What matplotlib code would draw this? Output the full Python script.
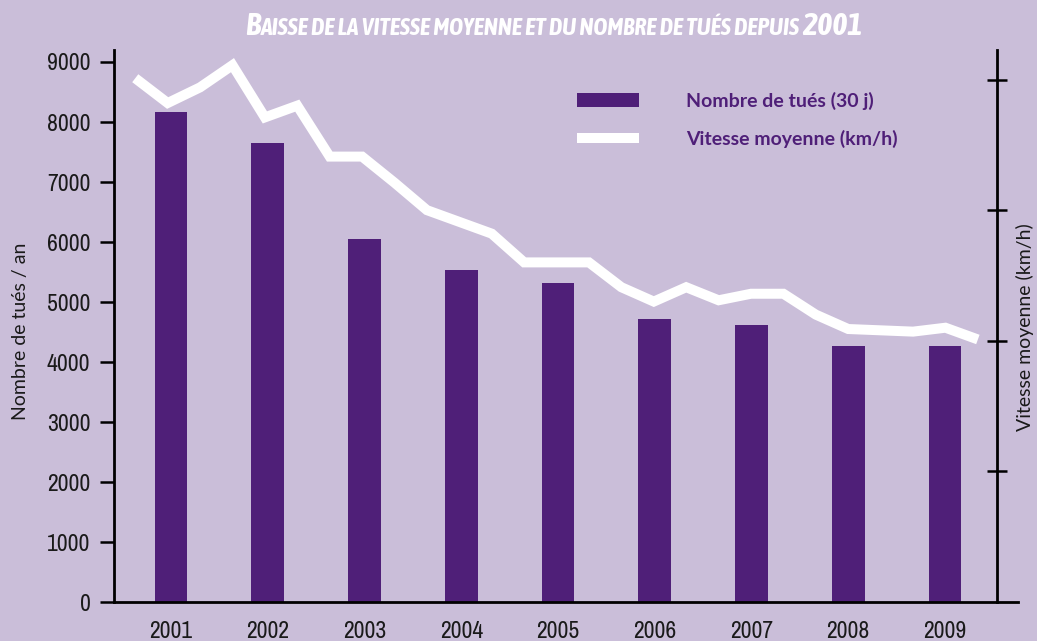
import numpy as np
import matplotlib
matplotlib.use("Agg")
import matplotlib.pyplot as plt
from matplotlib import font_manager as fm

# données
annees = [2001, 2002, 2003, 2004, 2005, 2006, 2007, 2008, 2009]
tues = [8160, 7655, 6058, 5530, 5318, 4709, 4620, 4275, 4273]

# vitesse moyenne relevée tous les 4 mois (km/h)
vitesse = [90.05, 89.1, 89.7, 90.55, 88.55, 89.0, 87.05, 87.05, 86.05,
           85.0, 84.55, 84.1, 83.0, 83.0, 83.0, 82.05, 81.5, 82.05,
           81.55, 81.8, 81.8, 81.0, 80.45, 80.4, 80.35, 80.5, 80.05]
vitesse_x = 2000.63 + np.arange(len(vitesse)) * 0.335

fond = "#CABED9"
violet = "#4F1F78"

# polices étroites disponibles (avec ou sans gras)
etroites = {}
for f in fm.fontManager.ttflist:
    nom = f.name.lower()
    if "narrow" in nom or "condensed" in nom:
        poids = f.weight if isinstance(f.weight, int) else 400
        etroites.setdefault(f.name, set()).add(poids)
police_ticks = next(iter(etroites), "DejaVu Sans")
police_titre = next((n for n, p in etroites.items() if max(p) >= 600), police_ticks)

fig = plt.figure(figsize=(10.37, 6.41), dpi=100, facecolor=fond)
ax = fig.add_axes([0.110, 0.0608, 0.8717, 0.8612])
ax.set_facecolor(fond)

ax.bar(annees, tues, width=0.34, color=violet, label="Nombre de tués (30 j)", zorder=2)
ax.set_xlim(2001 - 0.589, 2001 + 8.755)
ax.set_ylim(0, 9200)
ax.set_yticks(range(0, 10000, 1000))
ax.set_xticks(annees)

for s in ["top", "right"]:
    ax.spines[s].set_visible(False)
ax.spines["left"].set_linewidth(2)
ax.spines["bottom"].set_linewidth(2)

ax.tick_params(axis="y", direction="out", length=10, width=1.8, pad=7, labelsize=17)
ax.tick_params(axis="x", length=0, pad=14, labelsize=17)
for lab in ax.get_xticklabels() + ax.get_yticklabels():
    lab.set_fontfamily(police_ticks)
    lab.set_color("#1a1a1a")

ax.set_ylabel("Nombre de tués / an", fontsize=14, family="Lato", color="#1a1a1a", va="center")
ax.yaxis.set_label_coords(-0.104, 0.49)

# axe de droite : vitesse moyenne
ax2 = ax.twinx()
ax2.plot(vitesse_x, vitesse, color="white", lw=7.2, solid_joinstyle="miter",
         solid_capstyle="butt", label="Vitesse moyenne (km/h)", zorder=3)
ax2.set_ylim(70, 91.13)
ax2.set_yticks([75, 80, 85, 90])
ax2.set_yticklabels([])
for s in ["top", "bottom", "left"]:
    ax2.spines[s].set_visible(False)
ax2.spines["right"].set_position(("data", 2001 + 8.537))
ax2.spines["right"].set_linewidth(2)
ax2.tick_params(axis="y", direction="inout", length=14, width=1.8)
ax2.set_ylabel("Vitesse moyenne (km/h)", fontsize=14, family="Lato", color="#1a1a1a",
               va="center", rotation=90)
ax2.yaxis.set_label_coords(1.0077, 0.498)

# légende
h1, l1 = ax.get_legend_handles_labels()
h2, l2 = ax2.get_legend_handles_labels()
leg = ax2.legend(h1 + h2, l1 + l2, loc="upper left",
                 bbox_to_anchor=(577 / 1037, 1 - 92 / 641),
                 bbox_transform=fig.transFigure, frameon=False,
                 borderpad=0, borderaxespad=0, handlelength=3.2,
                 handletextpad=2.4, labelspacing=1.0,
                 prop={"family": "Lato", "weight": "bold", "size": 14})
for t in leg.get_texts():
    t.set_color(violet)

# titre en petites capitales, ajusté à la largeur du titre d'origine
y_base = 1 - 35 / 641
style_titre = dict(family=police_titre, weight="bold", style="italic",
                   color="white", va="baseline")
t1 = fig.text(245 / 1037, y_base, "B", fontsize=19, **style_titre)
t2 = ax.annotate("AISSE DE LA VITESSE MOYENNE ET DU NOMBRE DE TUÉS DEPUIS ",
                 xy=(1, y_base), xycoords=(t1, "figure fraction"),
                 fontsize=14, annotation_clip=False, **style_titre)
t3 = ax.annotate("2001", xy=(1, y_base), xycoords=(t2, "figure fraction"),
                 fontsize=19, annotation_clip=False, **style_titre)

fig.canvas.draw()
r = fig.canvas.get_renderer()
largeur = t3.get_window_extent(r).x1 - t1.get_window_extent(r).x0
k = 617 / largeur
for t, taille in ((t1, 19), (t2, 14), (t3, 19)):
    t.set_fontsize(taille * k)

plt.savefig("out.png", dpi=100, facecolor=fond)
